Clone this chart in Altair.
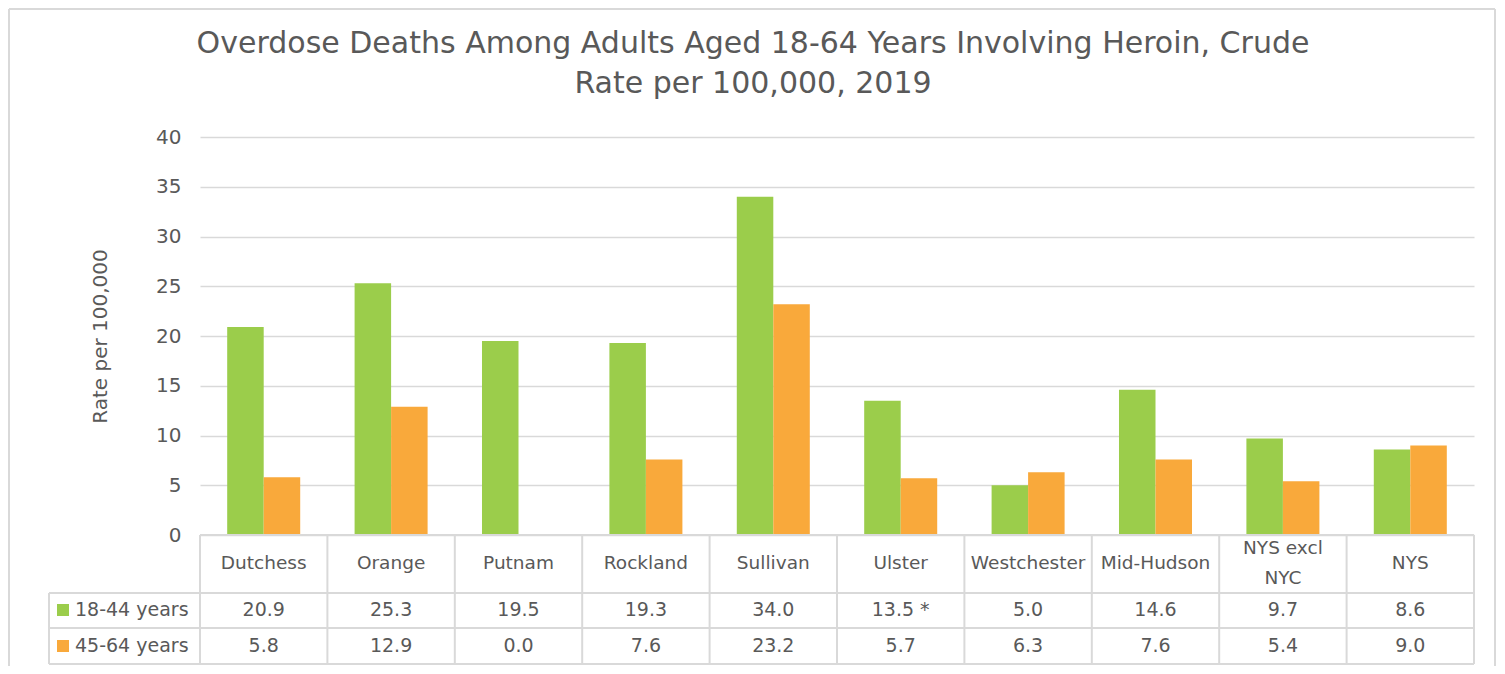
import altair as alt
import pandas as pd

# ---------------- data ----------------
counties = ["Dutchess", "Orange", "Putnam", "Rockland", "Sullivan", "Ulster",
            "Westchester", "Mid-Hudson", "NYS excl NYC", "NYS"]
header_labels = ["Dutchess", "Orange", "Putnam", "Rockland", "Sullivan", "Ulster",
                 "Westchester", "Mid-Hudson", "NYS excl\nNYC", "NYS"]
age_groups = ["18-44 years", "45-64 years"]
rate_18_44 = [20.9, 25.3, 19.5, 19.3, 34.0, 13.5, 5.0, 14.6, 9.7, 8.6]
rate_45_64 = [5.8, 12.9, 0.0, 7.6, 23.2, 5.7, 6.3, 7.6, 5.4, 9.0]
flag_18_44 = ["", "", "", "", "", "*", "", "", "", ""]
flag_45_64 = ["", "", "", "", "", "", "", "", "", ""]
y_ticks = [0, 5, 10, 15, 20, 25, 30, 35, 40]

title_lines = ["Overdose Deaths Among Adults Aged 18-64 Years Involving Heroin, Crude",
               "Rate per 100,000, 2019"]
y_title = "Rate per 100,000"

# ---------------- style ----------------
GREEN = "#9bcd4b"
ORANGE = "#f9a93b"
TEXT = "#595959"
LINE = "#d9d9d9"
FONT = "DejaVu Sans"
W, H = 1274, 398
PAD = {"left": 192, "top": 129, "right": 23, "bottom": 131}

rows = []
for grp, vals, flags in [(age_groups[0], rate_18_44, flag_18_44),
                         (age_groups[1], rate_45_64, flag_45_64)]:
    for c, v, f in zip(counties, vals, flags):
        lab = f"{v:.1f}" + (f" {f}" if f else "")
        rows.append({"county": c, "group": grp, "rate": v, "label": lab})
df = pd.DataFrame(rows)
df_head = pd.DataFrame({"county": counties, "header": header_labels})
df_grp = pd.DataFrame({"group": age_groups})
df_title = pd.DataFrame({"title": ["\n".join(title_lines)]})
one = pd.DataFrame({"k": [0]})

x_enc = alt.X("county:N", sort=counties,
              scale=alt.Scale(paddingInner=0, paddingOuter=0), axis=None)
color_enc = alt.Color("group:N", scale=alt.Scale(domain=age_groups, range=[GREEN, ORANGE]),
                      legend=None)

bars = alt.Chart(df).mark_bar(stroke=None).encode(
    x=x_enc,
    xOffset=alt.XOffset("group:N", sort=age_groups,
                        scale=alt.Scale(paddingInner=0, paddingOuter=0.745)),
    y=alt.Y("rate:Q", scale=alt.Scale(domain=[0, 40], nice=False),
            axis=alt.Axis(values=y_ticks, grid=True, gridColor=LINE, gridWidth=1.6,
                          domain=False, ticks=False, labelFontSize=20, labelColor=TEXT,
                          labelPadding=19, labelFont=FONT,
                          title=y_title, titleFontSize=20, titleFontWeight="normal",
                          titleColor=TEXT, titleFont=FONT, titleAngle=-90,
                          titleX=-100, titleY=H / 2, titleAlign="center",
                          titleBaseline="middle")),
    color=color_enc,
)

# chart title (two lines), centred on the page
title = alt.Chart(df_title).mark_text(
    fontSize=30, color=TEXT, font=FONT, lineBreak="\n", lineHeight=40,
    baseline="middle", align="center"
).encode(x=alt.value(553), y=alt.value(-93), text="title:N")

# table header row text
row_head_y = 426
row_y = [473, 509]
x_left = -151

header_single = alt.Chart(df_head).transform_filter(
    "indexof(datum.header, '\\n') < 0"
).mark_text(fontSize=18.5, color=TEXT, font=FONT, baseline="middle").encode(
    x=alt.X("county:N", sort=counties), y=alt.value(row_head_y), text="header:N")
header_multi = alt.Chart(df_head).transform_filter(
    "indexof(datum.header, '\\n') >= 0"
).mark_text(fontSize=18.5, color=TEXT, font=FONT, baseline="middle",
            lineBreak="\n", lineHeight=30).encode(
    x=alt.X("county:N", sort=counties), y=alt.value(row_head_y - 15), text="header:N")

layers = [bars, title, header_single, header_multi]

for grp, ry in zip(age_groups, row_y):
    layers.append(
        alt.Chart(df).transform_filter(alt.datum.group == grp).mark_text(
            fontSize=19, color=TEXT, font=FONT, baseline="middle"
        ).encode(x=alt.X("county:N", sort=counties), y=alt.value(ry), text="label:N")
    )
    layers.append(
        alt.Chart(df_grp).transform_filter(alt.datum.group == grp).mark_square(
            size=144, opacity=1
        ).encode(x=alt.value(x_left + 14), y=alt.value(ry), color=color_enc)
    )
    layers.append(
        alt.Chart(df_grp).transform_filter(alt.datum.group == grp).mark_text(
            fontSize=19, color=TEXT, font=FONT, align="left", baseline="middle"
        ).encode(x=alt.value(x_left + 26), y=alt.value(ry), text="group:N")
    )

# table grid lines
vlines = alt.Chart(df_head).mark_rule(color=LINE, strokeWidth=2).encode(
    x=alt.X("county:N", sort=counties, bandPosition=0),
    y=alt.value(H), y2=alt.value(527))
layers.append(vlines)


def rule(x, x2, y, y2, color=LINE, sw=2):
    return alt.Chart(one).mark_rule(color=color, strokeWidth=sw).encode(
        x=alt.value(x), x2=alt.value(x2), y=alt.value(y), y2=alt.value(y2))


layers += [
    rule(W, W, H, 527),
    rule(x_left, x_left, 456, 527),
    rule(0, W, H, H),
    rule(x_left, W, 456, 456),
    rule(x_left, W, 491, 491),
    rule(x_left, W, 527, 527),
    # outer chart border
    rule(-191, -191, -128, 540),
    rule(-191, 1295, -128, -128),
    rule(1295, 1295, -128, 540),
]

chart = alt.layer(*layers).properties(
    width=W, height=H,
    padding=PAD, autosize="none", background="white",
).configure_view(stroke=None)

chart.save("out.html", embed_options={"renderer": "svg", "actions": False})
